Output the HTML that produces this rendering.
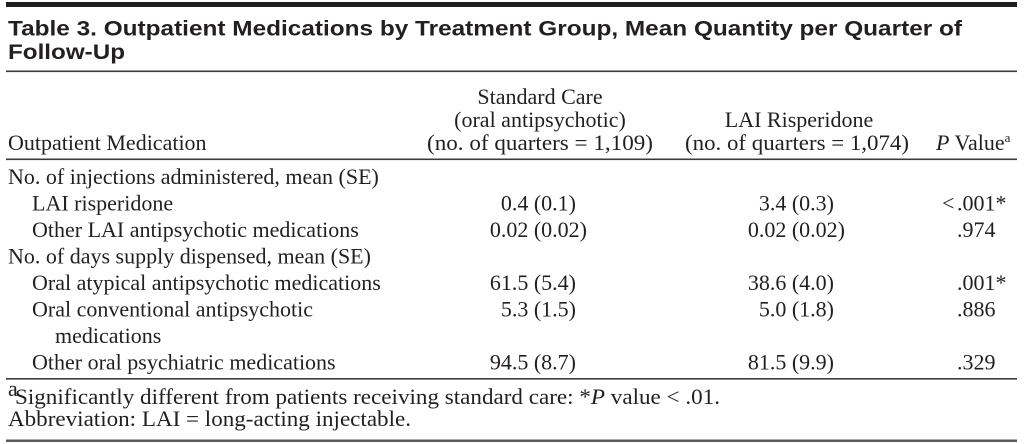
<!DOCTYPE html>
<html>
<head>
<meta charset="utf-8">
<style>
  html, body { margin: 0; padding: 0; background: #ffffff; }
  body { width: 1024px; height: 444px; overflow: hidden; }
  svg { display: block; }
  .t { font-family: "Liberation Sans", "DejaVu Sans", sans-serif; font-weight: bold; font-size: 21.5px; fill: #231f20; }
  .s { font-family: "Liberation Serif", "DejaVu Serif", serif; font-size: 22px; fill: #231f20; }
  .f { font-family: "Liberation Serif", "DejaVu Serif", serif; font-size: 22px; fill: #231f20; }
</style>
</head>
<body>
<svg width="1024" height="444" viewBox="0 0 1024 444" xmlns="http://www.w3.org/2000/svg">
  <rect x="0" y="0" width="1024" height="444" fill="#ffffff"/>

  <!-- top thick bar -->
  <rect x="6" y="2" width="1011" height="5" fill="#1f1f1f"/>

  <!-- title -->
  <text class="t" x="8" y="35.5" textLength="954" lengthAdjust="spacingAndGlyphs">Table 3. Outpatient Medications by Treatment Group, Mean Quantity per Quarter of</text>
  <text class="t" x="8" y="59" textLength="117" lengthAdjust="spacingAndGlyphs">Follow-Up</text>

  <!-- rule under title -->
  <rect x="6" y="70.5" width="1011" height="1.6" fill="#3a3a3a"/>

  <!-- header -->
  <text class="s" x="540" y="104" text-anchor="middle">Standard Care</text>
  <text class="s" x="540" y="127" text-anchor="middle">(oral antipsychotic)</text>
  <text class="s" x="540" y="150" text-anchor="middle" textLength="226" lengthAdjust="spacingAndGlyphs">(no. of quarters = 1,109)</text>

  <text class="s" x="799" y="127" text-anchor="middle">LAI Risperidone</text>
  <text class="s" x="797" y="150" text-anchor="middle" textLength="224" lengthAdjust="spacingAndGlyphs">(no. of quarters = 1,074)</text>

  <text class="s" x="8" y="150">Outpatient Medication</text>

  <text class="s" x="936" y="150"><tspan font-style="italic">P</tspan> Value<tspan font-size="13" dy="-8">a</tspan></text>

  <!-- rule under header -->
  <rect x="6" y="158.5" width="1011" height="1.6" fill="#3a3a3a"/>

  <!-- rows -->
  <text class="s" x="8" y="184">No. of injections administered, mean (SE)</text>

  <text class="s" x="32" y="210.5">LAI risperidone</text>
  <text class="s" x="576" y="210.5" text-anchor="end">0.4 (0.1)</text>
  <text class="s" x="834" y="210.5" text-anchor="end">3.4 (0.3)</text>
  <text class="s" x="942" y="210.5">&lt;</text>
  <text class="s" x="957" y="210.5">.001*</text>

  <text class="s" x="32" y="237">Other LAI antipsychotic medications</text>
  <text class="s" x="587" y="237" text-anchor="end">0.02 (0.02)</text>
  <text class="s" x="845" y="237" text-anchor="end">0.02 (0.02)</text>
  <text class="s" x="957" y="237">.974</text>

  <text class="s" x="8" y="263.5">No. of days supply dispensed, mean (SE)</text>

  <text class="s" x="32" y="290">Oral atypical antipsychotic medications</text>
  <text class="s" x="576" y="290" text-anchor="end">61.5 (5.4)</text>
  <text class="s" x="834" y="290" text-anchor="end">38.6 (4.0)</text>
  <text class="s" x="957" y="290">.001*</text>

  <text class="s" x="32" y="316.5">Oral conventional antipsychotic</text>
  <text class="s" x="576" y="316.5" text-anchor="end">5.3 (1.5)</text>
  <text class="s" x="834" y="316.5" text-anchor="end">5.0 (1.8)</text>
  <text class="s" x="957" y="316.5">.886</text>

  <text class="s" x="55" y="343">medications</text>

  <text class="s" x="32" y="369.5">Other oral psychiatric medications</text>
  <text class="s" x="576" y="369.5" text-anchor="end">94.5 (8.7)</text>
  <text class="s" x="834" y="369.5" text-anchor="end">81.5 (9.9)</text>
  <text class="s" x="957" y="369.5">.329</text>

  <!-- rule under body -->
  <rect x="6" y="378" width="1011" height="1.6" fill="#3a3a3a"/>

  <!-- footnotes -->
  <text class="f" x="8" y="396" font-size="13">a</text>
  <text class="f" x="15" y="404" textLength="705" lengthAdjust="spacingAndGlyphs">Significantly different from patients receiving standard care: *<tspan font-style="italic">P</tspan> value &lt; .01.</text>
  <text class="f" x="8" y="426" textLength="403" lengthAdjust="spacingAndGlyphs">Abbreviation: LAI = long-acting injectable.</text>

  <!-- bottom rule -->
  <rect x="6" y="439.5" width="1011" height="2.5" fill="#5a5a5a"/>
</svg>
</body>
</html>
